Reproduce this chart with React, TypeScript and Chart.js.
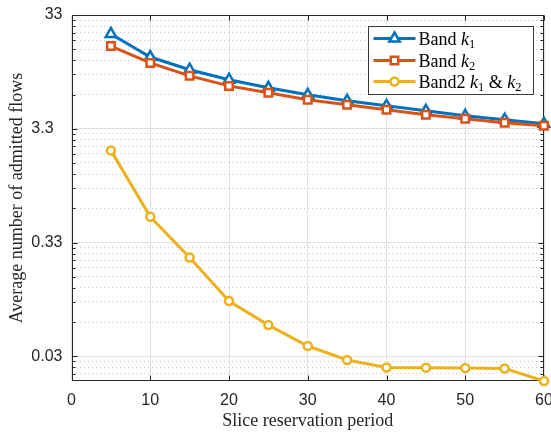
import React, { useEffect, useRef } from 'react';
import { Chart, registerables } from 'chart.js';

Chart.register(...registerables);

// ---- data ----
const periods = [5, 10, 15, 20, 25, 30, 35, 40, 45, 50, 55, 60];
const bandK1 = [22.5, 14.1, 10.9, 8.9, 7.56, 6.56, 5.81, 5.25, 4.75, 4.29, 3.96, 3.65];
const bandK2 = [17.6, 12.5, 9.63, 7.86, 6.83, 5.93, 5.36, 4.85, 4.38, 4.04, 3.73, 3.5];
const band2K1K2 = [2.13, 0.555, 0.244, 0.101, 0.062, 0.0406, 0.0306, 0.0263, 0.0262, 0.026, 0.0258, 0.02];

const xTickValues = [0, 10, 20, 30, 40, 50, 60];
const yMajorValues = [0.033, 0.33, 3.3, 33];
const yMajorLabels = ['0.03', '0.33', '3.3\u2007', '33'];
const yMinorBases = [0.0033, 0.033, 0.33, 3.3];
const yMinorFactors = [2, 3, 4, 5, 6, 7, 8, 9];
const yMin = 0.02;
const yMax = 33;

const xTitle = 'Slice reservation period';
const yTitle = 'Average number of admitted flows';

// legend label pieces: [text, style] n = normal, i = italic, s = subscript
const legendK1: [string, string][] = [['Band ', 'n'], ['k', 'i'], ['1', 's']];
const legendK2: [string, string][] = [['Band ', 'n'], ['k', 'i'], ['2', 's']];
const legendK12: [string, string][] = [['Band2 ', 'n'], ['k', 'i'], ['1', 's'], [' & ', 'n'], ['k', 'i'], ['2', 's']];

const BLUE = '#0072BD';
const ORANGE = '#D95319';
const YELLOW = '#EDB120';
const AXIS = '#262626';

const legendItems = [
  { color: BLUE, marker: 'triangle', parts: legendK1 },
  { color: ORANGE, marker: 'rect', parts: legendK2 },
  { color: YELLOW, marker: 'circle', parts: legendK12 },
];

function drawMarker(ctx: CanvasRenderingContext2D, type: string, x: number, y: number, color: string) {
  ctx.save();
  ctx.strokeStyle = color;
  ctx.fillStyle = '#fff';
  ctx.lineWidth = 2.5;
  ctx.beginPath();
  if (type === 'triangle') {
    const r = 6;
    let rad = 0;
    ctx.moveTo(x + Math.sin(rad) * r, y - Math.cos(rad) * r);
    rad += (2 * Math.PI) / 3;
    ctx.lineTo(x + Math.sin(rad) * r, y - Math.cos(rad) * r);
    rad += (2 * Math.PI) / 3;
    ctx.lineTo(x + Math.sin(rad) * r, y - Math.cos(rad) * r);
    ctx.closePath();
  } else if (type === 'rect') {
    const s = 5.3 * Math.SQRT1_2;
    ctx.rect(x - s, y - s, 2 * s, 2 * s);
  } else {
    ctx.arc(x, y, 4, 0, Math.PI * 2);
  }
  ctx.fill();
  ctx.stroke();
  ctx.restore();
}

const framePlugin = {
  id: 'frameTicks',
  beforeDatasetsDraw(chart: any) {
    const { ctx, chartArea: a, scales } = chart;
    const L = Math.round(a.left) + 0.5;
    const R = Math.round(a.right) - 0.5;
    const T = Math.round(a.top) + 0.5;
    const B = Math.round(a.bottom) - 0.5;
    ctx.save();
    ctx.strokeStyle = AXIS;
    ctx.lineWidth = 1;
    ctx.beginPath();
    ctx.rect(L, T, R - L, B - T);
    scales.x.ticks.forEach((t: any) => {
      const px = Math.round(scales.x.getPixelForValue(t.value)) + 0.5;
      ctx.moveTo(px, B);
      ctx.lineTo(px, B - 5);
      ctx.moveTo(px, T);
      ctx.lineTo(px, T + 5);
    });
    scales.y.ticks.forEach((t: any) => {
      const py = Math.round(scales.y.getPixelForValue(t.value)) + 0.5;
      const len = t.major ? 5 : 3;
      ctx.moveTo(L, py);
      ctx.lineTo(L + len, py);
      ctx.moveTo(R, py);
      ctx.lineTo(R - len, py);
    });
    ctx.stroke();
    ctx.restore();
  },
};

const legendPlugin = {
  id: 'richLegend',
  afterDraw(chart: any) {
    const { ctx, chartArea: a } = chart;
    const boxW = 165;
    const boxH = 68;
    const left = Math.round(a.right - 11 - boxW) + 0.5;
    const top = Math.round(a.top + 11) + 0.5;
    ctx.save();
    ctx.fillStyle = '#fff';
    ctx.strokeStyle = '#3a3a3a';
    ctx.lineWidth = 1;
    ctx.fillRect(left, top, boxW, boxH);
    ctx.strokeRect(left, top, boxW, boxH);
    const rowYs = [12, 34, 55];
    legendItems.forEach((item, i) => {
      const y = top + rowYs[i];
      ctx.strokeStyle = item.color;
      ctx.lineWidth = 3;
      ctx.beginPath();
      ctx.moveTo(left + 5, y);
      ctx.lineTo(left + 47, y);
      ctx.stroke();
      drawMarker(ctx, item.marker, left + 26, y, item.color);
      let x = left + 50;
      ctx.fillStyle = '#000';
      ctx.textBaseline = 'alphabetic';
      ctx.textAlign = 'left';
      item.parts.forEach(([txt, st]) => {
        let dy = 6;
        if (st === 'i') ctx.font = 'italic 18px "Liberation Serif"';
        else if (st === 's') {
          ctx.font = '12.5px "Liberation Serif"';
          dy = 9.5;
        } else ctx.font = '18px "Liberation Serif"';
        ctx.fillText(txt, x, y + dy);
        x += ctx.measureText(txt).width;
      });
    });
    ctx.restore();
  },
};

function buildYTicks() {
  const ticks: any[] = [];
  yMajorValues.forEach((v, i) => ticks.push({ value: v, major: true, lbl: yMajorLabels[i] }));
  yMinorBases.forEach((b) =>
    yMinorFactors.forEach((f) => {
      const v = b * f;
      if (v >= yMin && v <= yMax) ticks.push({ value: v, major: false, lbl: '' });
    })
  );
  ticks.sort((p, q) => p.value - q.value);
  return ticks;
}

export default function App() {
  const ref = useRef<HTMLCanvasElement | null>(null);

  useEffect(() => {
    if (!ref.current) return;
    const mk = (arr: number[]) => periods.map((x, i) => ({ x, y: arr[i] }));
    const common = {
      borderWidth: 3,
      pointBorderWidth: 2.5,
      pointBackgroundColor: '#fff',
      clip: false as any,
    };
    const chart = new Chart(ref.current, {
      type: 'line',
      data: {
        datasets: [
          {
            ...common,
            label: 'Band k1',
            data: mk(bandK1),
            borderColor: BLUE,
            backgroundColor: BLUE,
            pointStyle: 'triangle',
            pointRadius: 6,
            pointBorderColor: BLUE,
            order: 3,
          },
          {
            ...common,
            label: 'Band k2',
            data: mk(bandK2),
            borderColor: ORANGE,
            backgroundColor: ORANGE,
            pointStyle: 'rect',
            pointRadius: 5.3,
            pointBorderColor: ORANGE,
            order: 2,
          },
          {
            ...common,
            label: 'Band2 k1 & k2',
            data: mk(band2K1K2),
            borderColor: YELLOW,
            backgroundColor: YELLOW,
            pointStyle: 'circle',
            pointRadius: 4,
            pointBorderColor: YELLOW,
            order: 1,
          },
        ],
      },
      options: {
        animation: false,
        responsive: false,
        layout: { padding: { top: 15, right: 16, left: 0, bottom: 0 } },
        plugins: { legend: { display: false }, tooltip: { enabled: false } },
        scales: {
          x: {
            type: 'linear',
            min: 0,
            max: 60,
            afterBuildTicks: (s: any) => {
              s.ticks = xTickValues.map((v) => ({ value: v }));
            },
            afterFit: (s: any) => {
              s.height = 51;
              s.paddingLeft = 0;
              s.paddingRight = 0;
            },
            grid: { color: '#e2e2e2', drawTicks: false, lineWidth: 1 },
            border: { display: false },
            ticks: {
              padding: 10,
              color: AXIS,
              autoSkip: false,
              maxRotation: 0,
              font: { family: '"Liberation Sans", Arial, sans-serif', size: 16 },
            },
            title: {
              display: true,
              text: xTitle,
              color: AXIS,
              font: { family: '"Liberation Serif", serif', size: 18 },
              padding: { top: 0, bottom: 0 },
            },
          },
          y: {
            type: 'logarithmic',
            min: yMin,
            max: yMax,
            afterBuildTicks: (s: any) => {
              s.ticks = buildYTicks();
            },
            afterFit: (s: any) => {
              s.width = 71.5;
              s.paddingTop = 0;
              s.paddingBottom = 0;
            },
            grid: {
              drawTicks: false,
              lineWidth: 1,
              color: (c: any) => (c.tick && c.tick.major ? '#e2e2e2' : 'rgba(38,38,38,0.25)'),
            },
            border: {
              display: false,
              dash: (c: any) => (c.tick && !c.tick.major ? [1, 3] : []),
            },
            ticks: {
              padding: 9,
              color: AXIS,
              autoSkip: false,
              font: { family: '"Liberation Sans", Arial, sans-serif', size: 16 },
              callback: (_v: any, i: number, ticks: any[]) => ticks[i].lbl,
            },
            title: {
              display: true,
              text: yTitle,
              color: AXIS,
              font: { family: '"Liberation Serif", serif', size: 18 },
              padding: { top: 6, bottom: 0 },
            },
          },
        },
      },
      plugins: [framePlugin, legendPlugin],
    } as any);
    return () => chart.destroy();
  }, []);

  return (
    <div
      style={{
        position: 'fixed',
        left: 0,
        top: 0,
        width: 551,
        height: 432,
        overflow: 'hidden',
        background: '#fff',
      }}
    >
      <canvas ref={ref} width={560} height={432} style={{ display: 'block' }} />
    </div>
  );
}
